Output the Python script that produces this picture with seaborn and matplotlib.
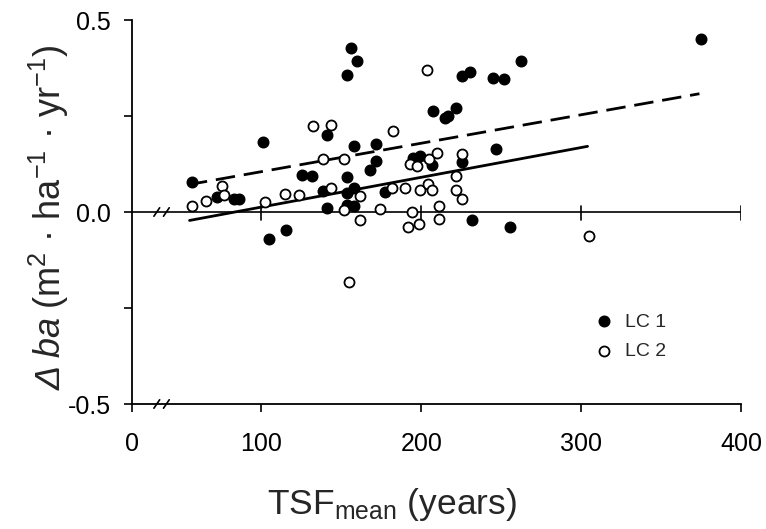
import numpy as np
import pandas as pd
import matplotlib
matplotlib.use("Agg")
import matplotlib.pyplot as plt
import seaborn as sns

# LC 1 (gefuellte Punkte)
lc1_tsf = [56.7, 71.9, 82.7, 85.8, 101.0, 104.6, 115.6, 125.4, 131.7, 138.5,
           141.0, 141.0, 153.5, 156.0, 159.8, 158.0, 171.9, 168.0, 171.9, 195.0,
           199.4, 206.7, 207.0, 215.0, 216.5, 221.9, 225.4, 230.2, 225.4, 244.8,
           252.0, 246.9, 262.3, 374.8, 153.5, 153.5, 157.7, 177.5, 153.5, 157.7,
           231.7, 255.2]
lc1_dba = [0.077, 0.039, 0.034, 0.034, 0.181, -0.070, -0.048, 0.097, 0.093, 0.054,
           0.010, 0.201, 0.358, 0.427, 0.392, 0.172, 0.178, 0.110, 0.134, 0.141,
           0.145, 0.123, 0.262, 0.245, 0.251, 0.271, 0.355, 0.364, 0.129, 0.349,
           0.346, 0.164, 0.394, 0.450, 0.091, 0.049, 0.062, 0.051, 0.019, 0.015,
           -0.022, -0.040]

# LC 2 (offene Punkte)
lc2_tsf = [56.7, 65.0, 75.4, 76.5, 102.5, 115.0, 123.3, 132.5, 143.6, 138.5,
           143.6, 151.9, 161.4, 151.9, 161.4, 154.6, 174.0, 181.7, 182.0, 190.0,
           193.0, 197.3, 194.0, 191.4, 198.8, 199.0, 203.5, 204.0, 206.7, 204.6,
           209.8, 210.8, 210.8, 221.9, 221.9, 225.4, 225.4, 304.6]
lc2_dba = [0.016, 0.028, 0.067, 0.045, 0.025, 0.048, 0.045, 0.225, 0.227, 0.137,
           0.062, 0.138, 0.042, 0.006, -0.020, -0.182, 0.008, 0.062, 0.212, 0.062,
           0.126, 0.121, 0.000, -0.039, -0.031, 0.058, 0.371, 0.074, 0.058, 0.138,
           0.154, 0.016, -0.018, 0.095, 0.056, 0.034, 0.152, -0.063]

# Regressionsgeraden (Endpunkte)
fit_lc1_x = [54, 374]
fit_lc1_y = [0.071, 0.308]
fit_lc2_x = [55, 304]
fit_lc2_y = [-0.022, 0.171]

xticks = [19, 100, 200, 300, 400]
xticklabels = ["0", "100", "200", "300", "400"]
yticks = [-0.5, -0.25, 0.0, 0.25, 0.5]
yticklabels = ["-0.5", "", "0.0", "", "0.5"]

sns.set_theme(style="ticks")
plt.rcParams['font.family'] = ['Liberation Sans', 'DejaVu Sans']
plt.rcParams['mathtext.fontset'] = 'custom'
plt.rcParams['mathtext.rm'] = 'Liberation Sans'
plt.rcParams['mathtext.it'] = 'Liberation Sans:italic'
plt.rcParams['mathtext.bf'] = 'Liberation Sans:bold'

df1 = pd.DataFrame({'tsf': lc1_tsf, 'dba': lc1_dba})
df2 = pd.DataFrame({'tsf': lc2_tsf, 'dba': lc2_dba})

fig = plt.figure(figsize=(7.66, 5.29), dpi=100)
ax = fig.add_axes([132 / 766, 125 / 529, 609 / 766, 384 / 529])

# Nulllinie mit Ticks
ax.axhline(0, color='black', lw=1.2, zorder=1)
for xt in xticks[1:]:
    ax.plot([xt, xt], [-0.02, 0.015], color='black', lw=1.2, zorder=1)

sns.lineplot(x=fit_lc1_x, y=fit_lc1_y, ax=ax, color='black', lw=2.0, zorder=2)
ax.lines[-1].set_dashes((7, 3.2))
sns.lineplot(x=fit_lc2_x, y=fit_lc2_y, ax=ax, color='black', lw=2.0, zorder=2)

sns.scatterplot(data=df1, x='tsf', y='dba', ax=ax, s=58, color='black',
                edgecolor='black', linewidth=1.0, label='LC 1', zorder=3)
sns.scatterplot(data=df2, x='tsf', y='dba', ax=ax, s=52, facecolor='white',
                edgecolor='black', linewidth=1.3, label='LC 2', zorder=3)

ax.set_xlim(19, 400)
ax.set_ylim(-0.5, 0.5)
ax.set_xticks(xticks)
ax.set_xticklabels(xticklabels)
ax.set_yticks(yticks)
ax.set_yticklabels(yticklabels)
ax.tick_params(axis='both', direction='out', length=6, width=1.2,
               labelsize=18, color='black', labelcolor='black')
ax.tick_params(axis='x', pad=14)
ax.tick_params(axis='y', pad=9)
for side in ['left', 'bottom']:
    ax.spines[side].set_linewidth(1.3)
    ax.spines[side].set_color('black')
sns.despine(ax=ax)

# Achsenbruch-Markierungen
for yb in [0.0, -0.5]:
    for xb in [34.5, 40.5]:
        ax.plot([xb - 1.8, xb + 1.8], [yb - 0.011, yb + 0.011], color='black',
                lw=1.2, clip_on=False, zorder=4)

ax.set_xlabel(r'TSF$_{\mathrm{mean}}$ (years)', fontsize=25.5, labelpad=22)
ax.xaxis.label.set_x(0.427)
ax.set_ylabel('')

# y-Achsentitel: kursives "Δ ba" + Einheiten
t1 = ax.text(-0.1166, 0.0365, 'Δ ba', style='italic', fontsize=26,
             rotation=90, rotation_mode='anchor', ha='left', va='baseline',
             transform=ax.transAxes)
fig.canvas.draw()
ext = t1.get_window_extent()
ax_h = ax.get_window_extent().height
t2 = ax.text(-0.1166, 0.0365 + (ext.height + 8) / ax_h,
             r'(m$^{2}$ · ha$^{-1}$ · yr$^{-1}$)', fontsize=26,
             rotation=90, rotation_mode='anchor', ha='left', va='baseline',
             transform=ax.transAxes)

leg = ax.legend(loc='upper left', bbox_to_anchor=(0.759, 0.237), frameon=False,
                fontsize=14, handlelength=1.0, handletextpad=0.6,
                labelspacing=0.6, borderpad=0, borderaxespad=0)

fig.savefig('out.png', dpi=100)
